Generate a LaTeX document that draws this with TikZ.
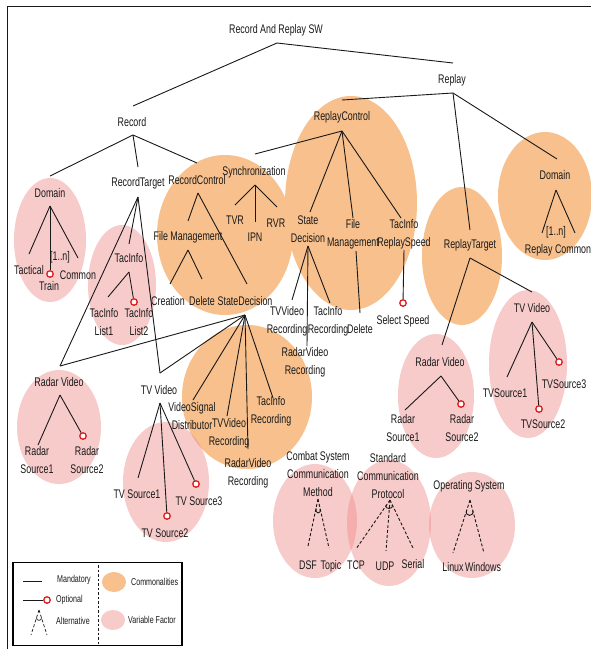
\documentclass[tikz,border=0pt]{standalone}
\usepackage{fontspec}
\setmainfont{Liberation Sans}[FakeStretch=0.71]
\usetikzlibrary{calc}
\definecolor{comm}{RGB}{247,192,140}
\definecolor{vari}{RGB}{240,140,140}
\definecolor{ink}{RGB}{25,25,25}
\definecolor{optred}{RGB}{220,30,30}
\begin{document}
\begin{tikzpicture}[x=1pt,y=-1pt,
 lbl/.style={inner sep=0pt, align=center, text=ink, font=\fontsize{12.5}{18}\selectfont},
 lg/.style={inner sep=0pt, anchor=west, text=ink, font=\fontsize{10}{12}\selectfont},
 edge/.style={draw=ink, line width=0.9pt},
 altedge/.style={draw=ink, line width=0.9pt, dash pattern=on 3pt off 2pt},
 opt/.style={circle, draw=optred, fill=white, line width=1.3pt, minimum size=6.5pt, inner sep=0pt},
 commfill/.style={fill=comm},
 varfill/.style={fill=vari, fill opacity=0.45},
]
\useasboundingbox (0,0) rectangle (591,649);
\fill[white] (0,0) rectangle (591,649);
% frame
\draw[ink, line width=1pt] (591,6) -- (7,6) -- (7,649);

% ---------- commonality regions
\fill[commfill] (225,235) ellipse [x radius=68pt, y radius=80pt];
\fill[commfill] (351,203) ellipse [x radius=66pt, y radius=107pt];
\fill[commfill] (462,256) ellipse [x radius=40pt, y radius=69pt];
\fill[commfill] (545,196) ellipse [x radius=47pt, y radius=64pt];
\fill[commfill] (247,397) ellipse [x radius=65pt, y radius=72pt];
% ---------- variable regions
\fill[varfill] (50,240) ellipse [x radius=36pt, y radius=62pt];
\fill[varfill] (122,285) ellipse [x radius=34pt, y radius=60pt];
\fill[varfill] (59,427) ellipse [x radius=42pt, y radius=57pt];
\fill[varfill] (166,482) ellipse [x radius=43pt, y radius=60pt];
\fill[varfill] (436,396) ellipse [x radius=38pt, y radius=62pt];
\fill[varfill] (528,364) ellipse [x radius=39pt, y radius=74pt];
\fill[varfill] (315,521) ellipse [x radius=42pt, y radius=57pt];
\fill[varfill] (389,523) ellipse [x radius=42pt, y radius=63pt];
\fill[varfill] (472,525) ellipse [x radius=43pt, y radius=53pt];

% ---------- connection points
\coordinate (rootB) at (277,43);
\coordinate (recT) at (133,106);
\coordinate (repT) at (453,63);
\coordinate (recB) at (133,135);
\coordinate (domT) at (50,176);
\coordinate (rtT) at (138,167);
\coordinate (rcT) at (197,163);
\coordinate (repB) at (453,93);
\coordinate (repcT) at (342,100);
\coordinate (rtgT) at (470,230);
\coordinate (rdomT) at (557,159);
\coordinate (repcB) at (342,131);
\coordinate (syncT) at (255,154);
\coordinate (sdT) at (310,212);
\coordinate (fmrT) at (353,218);
\coordinate (tirsT) at (401,218);
\coordinate (sdB) at (308,246);
\coordinate (tvvrT) at (292,300);
\coordinate (tirT) at (330,303);
\coordinate (rvrrT) at (307,346);
\coordinate (fmrB) at (356,251);
\coordinate (del2T) at (360,313);
\coordinate (tirsB) at (404,250);
\coordinate (rtgB) at (470,258);
\coordinate (rv2T) at (442,345);
\coordinate (tv2T) at (532,292);
\coordinate (rv2B) at (441,376);
\coordinate (rs21T) at (405,410);
\coordinate (tv2B) at (532,322);
\coordinate (tvs21T) at (507,377);
\coordinate (rdomB) at (556,190);
\coordinate (rnA) at (542,233);
\coordinate (rnB) at (575,233);
\coordinate (domB) at (50,206);
\coordinate (tactT) at (29,254);
\coordinate (comT) at (78,258);
\coordinate (rtB) at (138,197);
\coordinate (tiT) at (129,244);
\coordinate (rv1T) at (60,366);
\coordinate (tv1T) at (160,373);
\coordinate (tiB) at (129,272);
\coordinate (til1T) at (108,297);
\coordinate (syncB) at (255,185);
\coordinate (tvrT) at (235,205);
\coordinate (ipnT) at (255,222);
\coordinate (rvrT) at (277,207);
\coordinate (rcB) at (198,193);
\coordinate (fmT) at (188,221);
\coordinate (sdlT) at (247,284);
\coordinate (fmB) at (188,250);
\coordinate (creT) at (170,284);
\coordinate (delT) at (202,279);
\coordinate (sdlB) at (245,315);
\coordinate (vsdT) at (193,400);
\coordinate (tvvr2T) at (227,416);
\coordinate (rvr2T) at (248,449);
\coordinate (tir2T) at (273,398);
\coordinate (tv1B) at (160,403);
\coordinate (tvs11T) at (138,478);
\coordinate (rv1B) at (60,395);
\coordinate (rs11T) at (38,445);
\coordinate (csA) at (318,499);
\coordinate (dsfT) at (308,546);
\coordinate (topT) at (329,548);
\coordinate (scpA) at (390,500);
\coordinate (tcpT) at (356,549);
\coordinate (udpT) at (386,551);
\coordinate (serT) at (413,548);
\coordinate (osA) at (470,500);
\coordinate (linT) at (453,553);
\coordinate (winT) at (484,553);

% optional circles
\node[opt] (ssC) at (403,303) {};
\node[opt] (rs22C) at (461,404) {};
\node[opt] (tvs22C) at (539,409) {};
\node[opt] (tvs23C) at (559,362) {};
\node[opt] (trainC) at (50,274) {};
\node[opt] (til2C) at (134,302) {};
\node[opt] (tvs12C) at (167,516) {};
\node[opt] (tvs13C) at (196,484) {};
\node[opt] (rs12C) at (83,436) {};

% ---------- mandatory / optional edges
\draw[edge] (rootB) -- (recT);
\draw[edge] (rootB) -- (repT);
\draw[edge] (recB) -- (domT);
\draw[edge] (recB) -- (rtT);
\draw[edge] (recB) -- (rcT);
\draw[edge] (repB) -- (repcT);
\draw[edge] (repB) -- (rtgT);
\draw[edge] (repB) -- (rdomT);
\draw[edge] (repcB) -- (syncT);
\draw[edge] (repcB) -- (sdT);
\draw[edge] (repcB) -- (fmrT);
\draw[edge] (repcB) -- (tirsT);
\draw[edge] (sdB) -- (tvvrT);
\draw[edge] (sdB) -- (tirT);
\draw[edge] (sdB) -- (rvrrT);
\draw[edge] (fmrB) -- (del2T);
\draw[edge] (tirsB) -- (ssC);
\draw[edge] (rtgB) -- (rv2T);
\draw[edge] (rtgB) -- (tv2T);
\draw[edge] (rv2B) -- (rs21T);
\draw[edge] (rv2B) -- (rs22C);
\draw[edge] (tv2B) -- (tvs21T);
\draw[edge] (tv2B) -- (tvs22C);
\draw[edge] (tv2B) -- (tvs23C);
\draw[edge] (rdomB) -- (rnA);
\draw[edge] (rdomB) -- (rnB);
\draw[edge] (domB) -- (tactT);
\draw[edge] (domB) -- (trainC);
\draw[edge] (domB) -- (comT);
\draw[edge] (rtB) -- (tiT);
\draw[edge] (rtB) -- (rv1T);
\draw[edge] (rtB) -- (tv1T);
\draw[edge] (tiB) -- (til1T);
\draw[edge] (tiB) -- (til2C);
\draw[edge] (syncB) -- (tvrT);
\draw[edge] (syncB) -- (ipnT);
\draw[edge] (syncB) -- (rvrT);
\draw[edge] (rcB) -- (fmT);
\draw[edge] (rcB) -- (sdlT);
\draw[edge] (fmB) -- (creT);
\draw[edge] (fmB) -- (delT);
\draw[edge] (sdlB) -- (rv1T);
\draw[edge] (sdlB) -- (tv1T);
\draw[edge] (sdlB) -- (vsdT);
\draw[edge] (sdlB) -- (tvvr2T);
\draw[edge] (sdlB) -- (rvr2T);
\draw[edge] (sdlB) -- (tir2T);
\draw[edge] (tv1B) -- (tvs11T);
\draw[edge] (tv1B) -- (tvs12C);
\draw[edge] (tv1B) -- (tvs13C);
\draw[edge] (rv1B) -- (rs11T);
\draw[edge] (rv1B) -- (rs12C);

% ---------- alternative edges
\draw[altedge] (csA) -- (dsfT);
\draw[altedge] (csA) -- (topT);
\draw[edge] ($(csA)!0.2!(dsfT)$) .. controls ($(csA)!0.32!(dsfT)$) and ($(csA)!0.32!(topT)$) .. ($(csA)!0.2!(topT)$);
\draw[altedge] (scpA) -- (tcpT);
\draw[altedge] (scpA) -- (udpT);
\draw[altedge] (scpA) -- (serT);
\draw[edge] ($(scpA)!0.1!(tcpT)$) .. controls ($(scpA)!0.2!(tcpT)$) and ($(scpA)!0.2!(serT)$) .. ($(scpA)!0.1!(serT)$);
\draw[altedge] (osA) -- (linT);
\draw[altedge] (osA) -- (winT);
\draw[edge] ($(osA)!0.2!(linT)$) .. controls ($(osA)!0.32!(linT)$) and ($(osA)!0.32!(winT)$) .. ($(osA)!0.2!(winT)$);

% ---------- labels
\node[lbl] (rootL) at (276,30) {Record And Replay SW};
\node[lbl] (recL) at (132,122) {Record};
\node[lbl] (repL) at (452,80) {Replay};
\node[lbl] (domL) at (50,193) {Domain};
\node[lbl] (rtL) at (138,183) {RecordTarget};
\node[lbl] (rcL) at (197,180) {RecordControl};
\node[lbl] (syncL) at (254,172) {Synchronization};
\node[lbl] (repcL) at (342,117) {ReplayControl};
\node[lbl] (sdL) at (308,229) {State\\Decision};
\node[lbl] (fmrL) at (353,234) {File\\Management};
\node[lbl] (tirsL) at (404,234) {TacInfo\\ReplaySpeed};
\node[lbl] (rtgL) at (470,245) {ReplayTarget};
\node[lbl] (rdomL) at (555,175) {Domain};
\node[lbl] (rnL) at (556,232) {[1..n]};
\node[lbl] (rcomL) at (558,250) {Replay Common};
\node[lbl] (tactL) at (29,270) {Tactical};
\node[lbl] (trainL) at (49,286) {Train};
\node[lbl] (comL) at (78,275) {Common};
\node[lbl] (dnL) at (60,257) {[1..n]};
\node[lbl] (tiL) at (129,258) {TacInfo};
\node[lbl] (til1L) at (104,322) {TacInfo\\List1};
\node[lbl] (til2L) at (139,322) {TacInfo\\List2};
\node[lbl] (tvrL) at (235,220) {TVR};
\node[lbl] (ipnL) at (255,237) {IPN};
\node[lbl] (rvrL) at (276,223) {RVR};
\node[lbl] (fmL) at (188,237) {File Management};
\node[lbl] (creL) at (168,301) {Creation};
\node[lbl] (delL) at (202,301) {Delete};
\node[lbl] (sdlL) at (245,301) {StateDecision};
\node[lbl] (tvvrL) at (287,321) {TVVideo\\Recording};
\node[lbl] (tirL) at (328,321) {TacInfo\\Recording};
\node[lbl] (rvrrL) at (305,362) {RadarVideo\\Recording};
\node[lbl] (del2L) at (360,329) {Delete};
\node[lbl] (ssL) at (403,321) {Select Speed};
\node[lbl] (rv2L) at (440,362) {Radar Video};
\node[lbl] (tv2L) at (532,308) {TV Video};
\node[lbl] (rs21L) at (403,428) {Radar\\Source1};
\node[lbl] (rs22L) at (462,428) {Radar\\Source2};
\node[lbl] (tvs21L) at (505,393) {TVSource1};
\node[lbl] (tvs22L) at (543,424) {TVSource2};
\node[lbl] (tvs23L) at (564,384) {TVSource3};
\node[lbl] (rv1L) at (59,382) {Radar Video};
\node[lbl] (tv1L) at (159,390) {TV Video};
\node[lbl] (vsdL) at (192,416) {VideoSignal\\Distributor};
\node[lbl] (tvvr2L) at (229,433) {TVVideo\\Recording};
\node[lbl] (rvr2L) at (248,473) {RadarVideo\\Recording};
\node[lbl] (tir2L) at (271,411) {TacInfo\\Recording};
\node[lbl] (rs11L) at (37,460) {Radar\\Source1};
\node[lbl] (rs12L) at (87,460) {Radar\\Source2};
\node[lbl] (tvs11L) at (137,494) {TV Source1};
\node[lbl] (tvs12L) at (165,533) {TV Source2};
\node[lbl] (tvs13L) at (199,501) {TV Source3};
\node[lbl] (csL) at (318,474) {Combat System\\Communication\\Method};
\node[lbl] (dsfL) at (308,565) {DSF};
\node[lbl] (topL) at (331,566) {Topic};
\node[lbl] (scpL) at (388,476) {Standard\\Communication\\Protocol};
\node[lbl] (tcpL) at (356,565) {TCP};
\node[lbl] (udpL) at (385,566) {UDP};
\node[lbl] (serL) at (413,564) {Serial};
\node[lbl] (osL) at (469,486) {Operating System};
\node[lbl] (linL) at (453,567) {Linux};
\node[lbl] (winL) at (483,567) {Windows};

% ---------- legend
\node[draw=black, line width=1.8pt, minimum width=169pt, minimum height=83pt, inner sep=0pt] (legend) at (97.5,604) {};
\coordinate (divT) at (98,565);
\coordinate (divB) at (98,644);
\draw[ink, line width=0.7pt, dash pattern=on 2.5pt off 2pt] (divT) -- (divB);
\coordinate (lmA) at (23,581);
\coordinate (lmB) at (42,581);
\draw[edge] (lmA) -- (lmB);
\node[lg] (lmL) at (57,580) {Mandatory};
\coordinate (loA) at (23,600);
\node[opt] (loC) at (47,600) {};
\draw[edge] (loA) -- (loC);
\node[lg] (loL) at (56,600) {Optional};
\coordinate (laA) at (39,610);
\coordinate (laL) at (31,635);
\coordinate (laR) at (47,635);
\draw[altedge, line width=0.7pt] (laA) -- (laL);
\draw[altedge, line width=0.7pt] (laA) -- (laR);
\draw[edge, line width=0.7pt] ($(laA)!0.3!(laL)$) .. controls ($(laA)!0.45!(laL)$) and ($(laA)!0.45!(laR)$) .. ($(laA)!0.3!(laR)$);
\node[lg] (laT) at (56,621) {Alternative};
\fill[commfill] (114,582) ellipse [x radius=12pt, y radius=10pt];
\node[lg] (lcL) at (131,582) {Commonalities};
\fill[varfill] (113,620) ellipse [x radius=12pt, y radius=10pt];
\node[lg] (lvL) at (128,620) {Variable Factor};
\end{tikzpicture}
\end{document}
